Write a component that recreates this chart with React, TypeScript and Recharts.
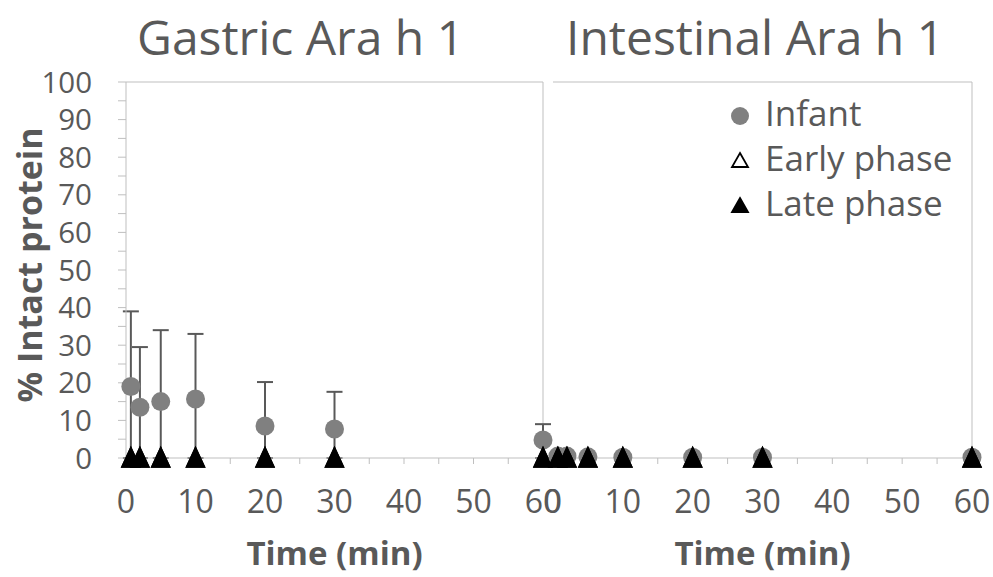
import React from 'react';
import {
  ScatterChart,
  Scatter,
  XAxis,
  YAxis,
  ErrorBar,
  ReferenceLine,
  Legend,
} from 'recharts';

// ---------- data ----------
const seriesNames = ['Infant', 'Early phase', 'Late phase'];
const panelTitles = ['Gastric Ara h 1', 'Intestinal Ara h 1'];
const xAxisTitle = 'Time (min)';
const yAxisTitle = '% Intact protein';

const gastricTime = [0.7, 2, 5, 10, 20, 30, 60];
const gastricInfant = [19, 13.5, 15, 15.7, 8.5, 7.7, 4.8];
const gastricInfantSD = [20, 16, 19, 17.3, 11.7, 9.9, 4.2];
const gastricEarly = [0, 0, 0, 0, 0, 0, 0];
const gastricLate = [0, 0, 0, 0, 0, 0, 0];

const intestinalTime = [0.7, 2, 5, 10, 20, 30, 60];
const intestinalInfant = [0.5, 0.5, 0.3, 0.2, 0.2, 0.2, 0.2];
const intestinalEarly = [0, 0, 0, 0, 0, 0, 0];
const intestinalLate = [0, 0, 0, 0, 0, 0, 0];

const xTicks = [0, 5, 10, 15, 20, 25, 30, 35, 40, 45, 50, 55, 60];
const yTicks = [0, 5, 10, 15, 20, 25, 30, 35, 40, 45, 50, 55, 60, 65, 70, 75, 80, 85, 90, 95, 100];

// ---------- styling ----------
const FONT = "'Open Sans', sans-serif";
const TEXT = '#595959';
const AXIS = '#bfbfbf';
const INFANT = '#808080';

const W = 993;
const H = 577;

const infantRows = (t: number[], v: number[], sd?: number[]) =>
  t.map((x, i) => ({ x, y: v[i], err: [v[i], sd ? sd[i] : 0] }));
const rows = (t: number[], v: number[]) => t.map((x, i) => ({ x, y: v[i] }));

const CircleShape = (p: any) => <circle cx={p.cx} cy={p.cy} r={9.5} fill={INFANT} />;
const TriShape = (filled: boolean) => (p: any) =>
  (
    <polygon
      points={`${p.cx},${p.cy - 10.5} ${p.cx + 9},${p.cy + 9} ${p.cx - 9},${p.cy + 9}`}
      fill={filled ? '#000' : '#fff'}
      stroke="#000"
      strokeWidth={1.5}
    />
  );

const YTick = (p: any) => {
  const v = p.payload.value;
  if (v % 10 !== 0) return <g />;
  return (
    <text x={p.x} y={p.y} dy="0.36em" textAnchor="end" fontSize={29.5} fontFamily={FONT} fill={TEXT}>
      {v}
    </text>
  );
};

const XTick = (p: any) => {
  const v = p.payload.value;
  if (v % 10 !== 0) return <g />;
  return (
    <text x={p.x} y={p.y} dy="0.72em" textAnchor="middle" fontSize={32} fontFamily={FONT} fill={TEXT}>
      {v}
    </text>
  );
};

const XTitle = (p: any) => {
  const vb = p.viewBox;
  return (
    <text
      x={vb.x + vb.width / 2}
      y={565}
      textAnchor="middle"
      fontSize={33}
      fontWeight="bold"
      fontFamily={FONT}
      fill={TEXT}
    >
      {xAxisTitle}
    </text>
  );
};

const YTitle = () => {
  const cx = 30;
  const cy = 265;
  return (
    <text
      x={cx}
      y={cy}
      dy="0.36em"
      textAnchor="middle"
      transform={`rotate(-90, ${cx}, ${cy})`}
      fontSize={34}
      fontWeight="bold"
      fontFamily={FONT}
      fill={TEXT}
    >
      {yAxisTitle}
    </text>
  );
};

const LegendContent = (props: any) => {
  const payload = [...(props.payload || [])].sort(
    (a: any, b: any) => seriesNames.indexOf(a.value) - seriesNames.indexOf(b.value)
  );
  return (
    <svg width={272} height={140} style={{ overflow: 'visible' }}>
      {payload.map((e: any, i: number) => {
        const cy = 26 + i * 45;
        const name = e.value;
        let icon;
        if (name === seriesNames[0]) icon = <circle cx={20} cy={cy} r={9} fill={INFANT} />;
        else
          icon = (
            <polygon
              points={`20,${cy - 8} 28,${cy + 6} 12,${cy + 6}`}
              fill={name === seriesNames[2] ? '#000' : '#fff'}
              stroke="#000"
              strokeWidth={1.8}
            />
          );
        return (
          <g key={name}>
            {icon}
            <text x={45} y={cy + 10} fontSize={35} fontFamily={FONT} fill={TEXT}>
              {name}
            </text>
          </g>
        );
      })}
    </svg>
  );
};

const chartStyle: React.CSSProperties = { position: 'absolute', left: 0, top: 0 };

export default function App() {
  return (
    <div style={{ position: 'absolute', left: 0, top: 0, width: W, height: H, background: '#fff', fontFamily: FONT }}>
      {/* Gastric panel */}
      <div style={chartStyle}>
        <ScatterChart width={W} height={H} margin={{ top: 82, right: 450, left: 0, bottom: 79 }}>
          <XAxis
            type="number"
            dataKey="x"
            domain={[0, 60]}
            ticks={xTicks}
            interval={0}
            height={40}
            tickSize={6}
            tickMargin={26}
            tick={<XTick />}
            stroke={AXIS}
            label={<XTitle />}
          />
          <YAxis
            type="number"
            dataKey="y"
            domain={[0, 100]}
            ticks={yTicks}
            interval={0}
            width={126}
            tickSize={8}
            tickMargin={26}
            tick={<YTick />}
            stroke={AXIS}
            label={<YTitle />}
          />
          <ReferenceLine y={100} stroke={AXIS} />
          <ReferenceLine x={60} stroke={AXIS} />
          <Scatter
            name={seriesNames[0]}
            data={infantRows(gastricTime, gastricInfant, gastricInfantSD)}
            shape={CircleShape}
            isAnimationActive={false}
          >
            <ErrorBar dataKey="err" direction="y" width={8} stroke="#595959" strokeWidth={2} />
          </Scatter>
          <Scatter name={seriesNames[1]} data={rows(gastricTime, gastricEarly)} shape={TriShape(false)} isAnimationActive={false} />
          <Scatter name={seriesNames[2]} data={rows(gastricTime, gastricLate)} shape={TriShape(true)} isAnimationActive={false} />
        </ScatterChart>
      </div>

      {/* Intestinal panel */}
      <div style={chartStyle}>
        <ScatterChart width={W} height={H} margin={{ top: 82, right: 21, left: 553, bottom: 79 }}>
          <XAxis
            type="number"
            dataKey="x"
            domain={[0, 60]}
            ticks={xTicks}
            interval={0}
            height={40}
            tickSize={6}
            tickMargin={26}
            tick={<XTick />}
            stroke={AXIS}
            label={<XTitle />}
          />
          <YAxis
            type="number"
            dataKey="y"
            domain={[0, 100]}
            width={0}
            tick={false}
            tickLine={false}
            stroke={AXIS}
          />
          <ReferenceLine y={100} stroke={AXIS} />
          <ReferenceLine x={60} stroke={AXIS} />
          <Scatter name={seriesNames[0]} data={infantRows(intestinalTime, intestinalInfant)} shape={CircleShape} isAnimationActive={false} />
          <Scatter name={seriesNames[1]} data={rows(intestinalTime, intestinalEarly)} shape={TriShape(false)} isAnimationActive={false} />
          <Scatter name={seriesNames[2]} data={rows(intestinalTime, intestinalLate)} shape={TriShape(true)} isAnimationActive={false} />
          <Legend
            layout="vertical"
            align="center"
            verticalAlign="middle"
            content={<LegendContent />}
            wrapperStyle={{ position: 'absolute', left: 720, top: 90, width: 272, height: 140 }}
          />
        </ScatterChart>
      </div>

      {/* Panel titles */}
      <svg width={W} height={70} style={{ position: 'absolute', left: 0, top: 0, pointerEvents: 'none' }}>
        <text x={137} y={55} fontSize={48} fontFamily={FONT} fill={TEXT}>
          {panelTitles[0]}
        </text>
        <text x={566} y={55} fontSize={48} fontFamily={FONT} fill={TEXT}>
          {panelTitles[1]}
        </text>
      </svg>
    </div>
  );
}
